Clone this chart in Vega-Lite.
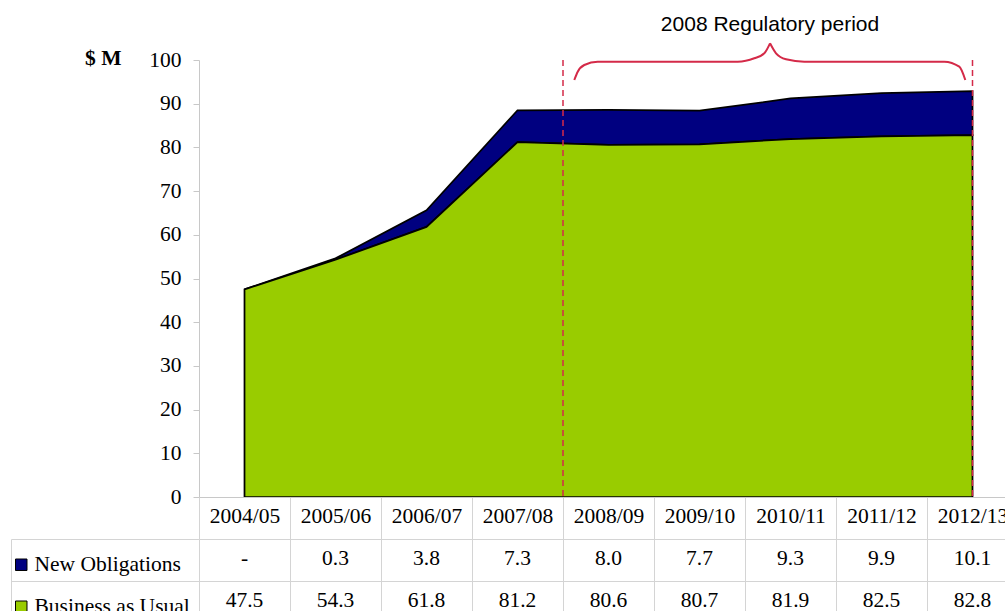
{
  "$schema": "https://vega.github.io/schema/vega-lite/v6.json",
  "background": "white",
  "padding": {"left": 10, "top": 14, "right": -13, "bottom": -12},
  "config": {
    "view": {"stroke": null},
    "font": "Liberation Serif"
  },
  "datasets": {
    "costs": [
      {"year": "2004/05", "series": "New Obligations", "value": 0},
      {"year": "2005/06", "series": "New Obligations", "value": 0.3},
      {"year": "2006/07", "series": "New Obligations", "value": 3.8},
      {"year": "2007/08", "series": "New Obligations", "value": 7.3},
      {"year": "2008/09", "series": "New Obligations", "value": 8.0},
      {"year": "2009/10", "series": "New Obligations", "value": 7.7},
      {"year": "2010/11", "series": "New Obligations", "value": 9.3},
      {"year": "2011/12", "series": "New Obligations", "value": 9.9},
      {"year": "2012/13", "series": "New Obligations", "value": 10.1},
      {"year": "2004/05", "series": "Business as Usual", "value": 47.5},
      {"year": "2005/06", "series": "Business as Usual", "value": 54.3},
      {"year": "2006/07", "series": "Business as Usual", "value": 61.8},
      {"year": "2007/08", "series": "Business as Usual", "value": 81.2},
      {"year": "2008/09", "series": "Business as Usual", "value": 80.6},
      {"year": "2009/10", "series": "Business as Usual", "value": 80.7},
      {"year": "2010/11", "series": "Business as Usual", "value": 81.9},
      {"year": "2011/12", "series": "Business as Usual", "value": 82.5},
      {"year": "2012/13", "series": "Business as Usual", "value": 82.8}
    ],
    "brace": [
      {"half": "left", "u": 4.124, "v": 95.42},
      {"half": "left", "u": 4.162, "v": 97.32},
      {"half": "left", "u": 4.234, "v": 98.86},
      {"half": "left", "u": 4.381, "v": 99.61},
      {"half": "left", "u": 5.920, "v": 99.61},
      {"half": "left", "u": 6.102, "v": 100.39},
      {"half": "left", "u": 6.212, "v": 101.53},
      {"half": "left", "u": 6.275, "v": 103.82},
      {"half": "right", "u": 6.275, "v": 103.82},
      {"half": "right", "u": 6.341, "v": 101.53},
      {"half": "right", "u": 6.451, "v": 100.16},
      {"half": "right", "u": 6.652, "v": 99.61},
      {"half": "right", "u": 8.190, "v": 99.61},
      {"half": "right", "u": 8.355, "v": 98.47},
      {"half": "right", "u": 8.421, "v": 95.42}
    ],
    "period": [
      {"label": "2008 Regulatory period", "u": 6.275, "v": 108}
    ]
  },
  "vconcat": [
    {
      "width": 819,
      "height": 437,
      "layer": [
        {
          "layer": [
            {
              "data": {"name": "costs"},
              "mark": {"type": "area", "stroke": "black", "strokeWidth": 1.75, "opacity": 1},
              "encoding": {
                "x": {
                  "field": "year",
                  "type": "ordinal",
                  "bandPosition": 0.5,
                  "scale": {
                    "type": "band",
                    "paddingInner": 0,
                    "paddingOuter": 0,
                    "domain": ["2004/05", "2005/06", "2006/07", "2007/08", "2008/09", "2009/10", "2010/11", "2011/12", "2012/13"]
                  },
                  "axis": {
                    "title": null,
                    "domain": true,
                    "domainColor": "#c8c8c8",
                    "ticks": true,
                    "tickBand": "extent",
                    "tickSize": 42,
                    "tickColor": "#d4d4d4",
                    "labelFont": "Liberation Serif",
                    "labelFontSize": 21.5,
                    "labelColor": "black",
                    "labelAngle": 0,
                    "labelBaseline": "middle",
                    "labelPadding": -22.5,
                    "labelOverlap": false,
                    "labelFlush": false,
                    "labelBound": false,
                    "grid": false,
                    "zindex": 1
                  }
                },
                "y": {
                  "field": "value",
                  "type": "quantitative",
                  "stack": "zero",
                  "scale": {"domain": [0, 100], "nice": false},
                  "axis": {
                    "title": "$ M",
                    "titleAngle": 0,
                    "titleFont": "Liberation Serif",
                    "titleFontSize": 21.5,
                    "titleFontWeight": "bold",
                    "titleColor": "black",
                    "titleX": -78,
                    "titleY": -2,
                    "titleAlign": "right",
                    "titleBaseline": "middle",
                    "values": [0, 10, 20, 30, 40, 50, 60, 70, 80, 90, 100],
                    "labelFont": "Liberation Serif",
                    "labelFontSize": 21.5,
                    "labelColor": "black",
                    "labelPadding": 12,
                    "tickSize": 6,
                    "tickColor": "#c8c8c8",
                    "domainColor": "#c8c8c8",
                    "grid": false
                  }
                },
                "color": {
                  "field": "series",
                  "type": "nominal",
                  "scale": {
                    "domain": ["New Obligations", "Business as Usual"],
                    "range": ["#000080", "#99CC00"]
                  },
                  "legend": {
                    "orient": "none",
                    "legendX": -188.5,
                    "legendY": 494,
                    "title": null,
                    "direction": "vertical",
                    "padding": 0,
                    "symbolType": "square",
                    "symbolSize": 132,
                    "symbolStrokeColor": "black",
                    "symbolStrokeWidth": 1,
                    "symbolOpacity": 1,
                    "labelFont": "Liberation Serif",
                    "labelFontSize": 21.5,
                    "labelColor": "black",
                    "labelOffset": 2.5,
                    "rowPadding": 19
                  }
                },
                "order": {"field": "series", "sort": "ascending"}
              }
            },
            {
              "data": {"values": [{}]},
              "mark": {"type": "rule", "color": "#D42A48", "strokeWidth": 1.5, "strokeDash": [6, 4]},
              "encoding": {
                "x": {"datum": "2008/09", "type": "ordinal", "bandPosition": 0},
                "y": {"datum": 100, "type": "quantitative"},
                "y2": {"datum": 0}
              }
            },
            {
              "data": {"values": [{}]},
              "mark": {"type": "rule", "color": "#D42A48", "strokeWidth": 1.5, "strokeDash": [6, 4]},
              "encoding": {
                "x": {"datum": "2012/13", "type": "ordinal", "bandPosition": 0.5},
                "y": {"datum": 100, "type": "quantitative"},
                "y2": {"datum": 0}
              }
            }
          ]
        },
        {
          "layer": [
            {
              "data": {"name": "brace"},
              "mark": {"type": "line", "interpolate": "monotone", "color": "#D42A48", "strokeWidth": 2},
              "encoding": {
                "x": {"field": "u", "type": "quantitative", "scale": {"domain": [0, 9], "nice": false, "zero": false}, "axis": null},
                "y": {"field": "v", "type": "quantitative", "scale": {"domain": [0, 100], "nice": false}},
                "detail": {"field": "half"}
              }
            },
            {
              "data": {"name": "period"},
              "mark": {"type": "text", "font": "Liberation Sans", "fontSize": 21, "color": "black", "align": "center", "baseline": "middle"},
              "encoding": {
                "x": {"field": "u", "type": "quantitative"},
                "y": {"field": "v", "type": "quantitative"},
                "text": {"field": "label"}
              }
            }
          ]
        }
      ],
      "resolve": {"scale": {"x": "independent"}}
    },
    {
      "width": 819,
      "height": 84,
      "data": {"name": "costs"},
      "mark": {"type": "text", "font": "Liberation Serif", "fontSize": 21.5, "color": "black", "align": "center", "baseline": "middle", "dy": -1.5},
      "encoding": {
        "x": {
          "field": "year",
          "type": "ordinal",
          "scale": {
            "type": "band",
            "paddingInner": 0,
            "paddingOuter": 0,
            "domain": ["2004/05", "2005/06", "2006/07", "2007/08", "2008/09", "2009/10", "2010/11", "2011/12", "2012/13"]
          },
          "axis": {
            "title": null,
            "grid": true,
            "tickBand": "extent",
            "gridColor": "#d4d4d4",
            "labels": false,
            "ticks": false,
            "domain": false
          }
        },
        "y": {
          "field": "series",
          "type": "nominal",
          "scale": {"domain": ["New Obligations", "Business as Usual"], "paddingInner": 0, "paddingOuter": 0},
          "axis": {
            "title": null,
            "grid": true,
            "tickBand": "extent",
            "gridColor": "#d4d4d4",
            "labels": false,
            "ticks": true,
            "offset": 188,
            "tickSize": -188,
            "tickColor": "#d4d4d4",
            "domain": true,
            "domainColor": "#d4d4d4"
          }
        },
        "text": {
          "condition": {"test": "datum.value === 0", "value": "-"},
          "field": "value",
          "type": "quantitative",
          "format": ".1f"
        }
      }
    }
  ],
  "spacing": 42,
  "bounds": "flush",
  "resolve": {"scale": {"x": "independent", "y": "independent"}}
}
